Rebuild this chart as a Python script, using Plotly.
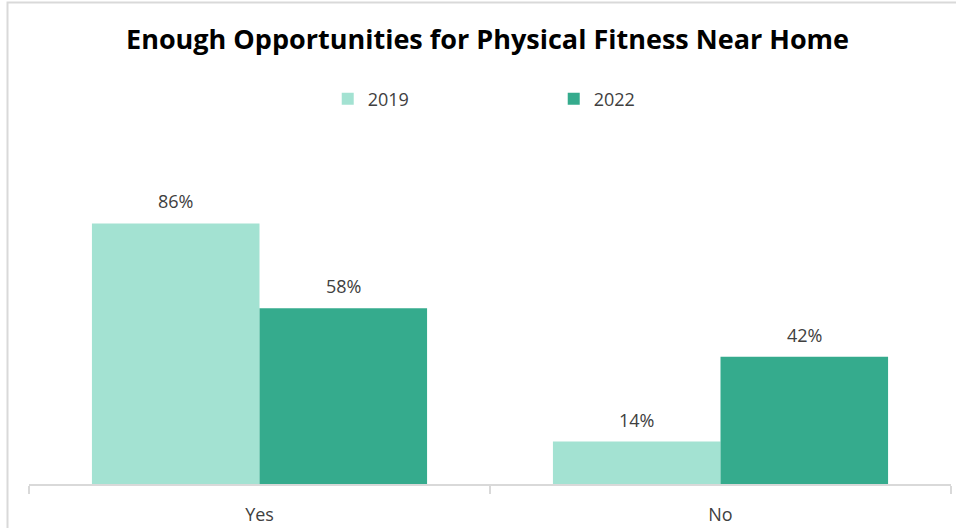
import plotly.graph_objects as go

# Survey responses: share of residents (%)
categories = ["Yes", "No"]
years = ["2019", "2022"]
values_2019 = [86, 14]
values_2022 = [58, 42]
colors = ["#A3E2D2", "#35AB8D"]

series = [values_2019, values_2022]
text_color = "#404040"
grid_gray = "#D9D9D9"
font_family = "Open Sans, Noto Sans, sans-serif"
bargap = 0.273

fig = go.Figure()
for name, vals, col in zip(years, series, colors):
    fig.add_trace(go.Bar(
        x=categories, y=vals, name=name,
        marker=dict(color=col, line=dict(width=0)),
        hoverinfo="skip",
    ))

# Value labels above each bar, placed by category index and bar offset
n = len(series)
group_w = 1 - bargap
for i, vals in enumerate(series):
    offset = (i + 0.5) * group_w / n - group_w / 2
    for j, v in enumerate(vals):
        fig.add_annotation(
            x=j + offset, y=v, xref="x", yref="y",
            text=f"{v}%", showarrow=False, yshift=22,
            font=dict(size=18, color=text_color, family=font_family),
        )

fig.update_layout(
    width=956, height=528,
    margin=dict(l=29, r=5, t=181, b=44),
    paper_bgcolor="white", plot_bgcolor="white",
    barmode="group", bargap=bargap, bargroupgap=0,
    title=dict(
        text="<b>Enough Opportunities for Physical Fitness Near Home</b>",
        x=0.51, xanchor="center", y=0.925, yanchor="middle",
        font=dict(size=27, color="#000000", family=font_family),
    ),
    legend=dict(
        orientation="h", x=0.324, xanchor="left", y=1 - 99 / 528, yref="container",
        yanchor="middle", entrywidth=181,
        font=dict(size=18, color=text_color, family=font_family),
    ),
    xaxis=dict(
        type="category", showline=True, linecolor=grid_gray, linewidth=2,
        ticks="outside", tickson="boundaries", ticklen=8,
        tickcolor=grid_gray, tickwidth=2, showgrid=False,
        tickfont=dict(size=18, color=text_color, family=font_family),
        ticklabelstandoff=13, automargin=False,
        range=[-0.5, 1.5],
    ),
    xaxis2=dict(
        overlaying="x", anchor="y", range=[-0.5, 1.5],
        tickvals=[-0.5, 0.5, 1.5], showticklabels=False,
        ticks="inside", ticklen=7, tickcolor=grid_gray, tickwidth=2,
        showgrid=False, showline=False, zeroline=False,
    ),
    yaxis=dict(range=[0, 100], visible=False),
    showlegend=True,
)

# Light frame around the chart
fig.add_shape(
    type="rect", xref="paper", yref="paper",
    x0=-21.5 / 922, x1=1.1, y0=-0.3, y1=(181 + 303 - 2.5) / 303,
    line=dict(color=grid_gray, width=2), fillcolor="rgba(0,0,0,0)", layer="below",
)

fig.write_html("out.html")
